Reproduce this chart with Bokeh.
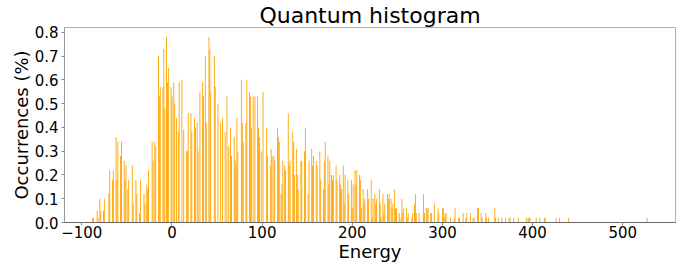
from bokeh.plotting import figure
from bokeh.models import Range1d, FixedTicker, CustomJSTickFormatter
from bokeh.embed import file_html
from bokeh.resources import INLINE

# Energy values (x) and occurrences in percent (y)
energies = [
    -88, -87, -83, -82, -80, -79, -76, -75, -70, -69, -66, -65, -62, -61, -60,
    -57, -56, -53, -52, -51, -49, -48, -44, -43, -40, -39, -36, -35, -31, -30,
    -28, -27, -26, -22, -21, -19, -18,
    -15, -14, -13, -10, -9, -8, -6, -5, -4, -1, 0, 2, 3, 5, 7, 8, 11, 13,
    16, 17, 18, 21, 22, 25, 26, 28, 29, 31, 34, 35, 37, 38, 41, 42, 43,
    47, 48, 51, 54, 56, 59, 61, 63, 65, 66, 69, 70,
    71, 72, 73, 77, 78, 79, 82, 83, 86, 87, 88, 90, 92, 95, 96, 97, 99,
    101, 105, 106, 109, 110, 111, 113, 114, 117, 118, 119, 121, 122, 123,
    125, 126, 129, 130, 131, 134, 135, 136, 138, 139, 140, 143, 144, 147,
    148, 151, 152, 155, 156, 157,
    160, 161, 164, 165, 168, 169, 170, 173, 174, 175, 177, 178, 179, 182,
    183, 186, 187, 188, 190, 191, 192, 195, 196, 199, 200, 201, 203, 204,
    205, 208, 209, 210, 212, 213, 214, 217, 218, 221, 222, 223, 225, 226,
    227, 230, 231, 232, 234, 235, 236, 239, 240, 241, 243, 244, 245, 247, 248,
    249, 252, 253, 255, 256, 257, 260, 261, 262, 266, 267, 269, 270, 271,
    274, 279, 280, 282, 283, 284, 287, 288, 291, 295, 296, 300, 301, 302,
    303, 304, 309, 313, 314, 318, 319, 323, 326, 327, 331, 334, 335,
    339, 340, 343, 344, 348, 349, 351, 358, 359, 362, 366, 370, 374, 375,
    379, 384, 393, 395, 396, 397, 404, 408, 413, 414, 426, 430, 440, 527,
]
occurrences = [
    0.02, 0.02, 0.05, 0.02, 0.10, 0.05, 0.05, 0.10, 0.12, 0.22, 0.18, 0.22, 0.36, 0.18, 0.34,
    0.28, 0.34, 0.26, 0.18, 0.24, 0.14, 0.18, 0.24, 0.08, 0.18, 0.12, 0.04, 0.18, 0.12, 0.08,
    0.16, 0.14, 0.22, 0.34, 0.26, 0.34, 0.32,
    0.70, 0.53, 0.57, 0.57, 0.73, 0.48, 0.78, 0.59, 0.65, 0.57, 0.53, 0.59, 0.50, 0.44, 0.38, 0.59, 0.60, 0.39,
    0.30, 0.30, 0.46, 0.46, 0.38, 0.44, 0.40, 0.42, 0.30, 0.55, 0.59, 0.53, 0.70, 0.42, 0.78, 0.73, 0.55,
    0.70, 0.57, 0.50, 0.42, 0.44, 0.38, 0.53, 0.32, 0.40, 0.28, 0.36, 0.26,
    0.24, 0.44, 0.30, 0.60, 0.42, 0.34, 0.42, 0.60, 0.55, 0.53, 0.40, 0.53, 0.53, 0.53, 0.40, 0.36, 0.30,
    0.55, 0.40, 0.28, 0.24, 0.31, 0.28, 0.28, 0.26, 0.40, 0.36, 0.34, 0.12, 0.16, 0.26,
    0.24, 0.22, 0.46, 0.24, 0.26, 0.38, 0.34, 0.20, 0.31, 0.20, 0.14, 0.26, 0.26, 0.30,
    0.40, 0.12, 0.26, 0.31, 0.24, 0.28,
    0.26, 0.24, 0.30, 0.18, 0.14, 0.26, 0.34, 0.28, 0.16, 0.26, 0.20, 0.18, 0.20, 0.24,
    0.18, 0.20, 0.16, 0.14, 0.24, 0.08, 0.20, 0.18, 0.12, 0.18, 0.06, 0.16, 0.22, 0.16,
    0.22, 0.20, 0.18, 0.06, 0.14, 0.08, 0.10, 0.14, 0.10, 0.18, 0.02, 0.10, 0.12, 0.08,
    0.10, 0.14, 0.08, 0.02, 0.12, 0.04, 0.08, 0.12, 0.10, 0.12, 0.10, 0.06, 0.08, 0.14, 0.06,
    0.06, 0.04, 0.02, 0.10, 0.04, 0.06, 0.06, 0.02, 0.04, 0.02, 0.04, 0.08, 0.12, 0.04,
    0.04, 0.12, 0.04, 0.06, 0.06, 0.06, 0.04, 0.04, 0.08, 0.06, 0.04, 0.06, 0.06, 0.02,
    0.04, 0.04, 0.02, 0.02, 0.06, 0.02, 0.02, 0.04, 0.02, 0.04, 0.04, 0.02, 0.02,
    0.06, 0.06, 0.04, 0.02, 0.04, 0.02, 0.02, 0.06, 0.02, 0.02, 0.02, 0.02, 0.02, 0.02,
    0.02, 0.02, 0.02, 0.02, 0.02, 0.02, 0.02, 0.02, 0.02, 0.02, 0.02, 0.02, 0.02, 0.02,
]
x_ticks = [-100, 0, 100, 200, 300, 400, 500]
y_ticks = [0.0, 0.1, 0.2, 0.3, 0.4, 0.5, 0.6, 0.7, 0.8]
title_text = "Quantum histogram"
x_label = "Energy"
y_label = "Occurrences (%)"

FONT = "DejaVu Sans"

p = figure(width=683, height=264, output_backend="svg", toolbar_location=None,
           x_range=Range1d(-119.2, 558.5), y_range=Range1d(0, 0.8203),
           min_border_left=64, min_border_right=8, min_border_top=26, min_border_bottom=38,
           background_fill_color="white", border_fill_color="white")

p.vbar(x=energies, top=occurrences, width=1.0, fill_color="#FFA500", line_color=None)

p.title.text = title_text
p.title.align = "center"
p.title.text_font = FONT
p.title.text_font_size = "22px"
p.title.text_font_style = "normal"
p.title.text_color = "#000000"
p.title.standoff = 0
p.title.offset = 0

p.xgrid.visible = False
p.ygrid.visible = False
p.outline_line_color = "#b0b0b0"
p.outline_line_width = 1

xa = p.xaxis[0]
xa.ticker = FixedTicker(ticks=x_ticks)
xa.formatter = CustomJSTickFormatter(code="return tick < 0 ? '\\u2212' + Math.abs(tick) : String(tick);")
xa.axis_line_color = "#666666"
xa.major_tick_line_color = "#888888"
xa.major_tick_out = 3
xa.major_tick_in = 0
xa.minor_tick_line_color = None
xa.major_label_standoff = 0
xa.major_label_text_font = FONT
xa.major_label_text_font_size = "15px"
xa.major_label_text_color = "#000000"
xa.major_label_text_line_height = 0.9
xa.axis_label = x_label
xa.axis_label_text_font = FONT
xa.axis_label_text_font_size = "18px"
xa.axis_label_text_font_style = "normal"
xa.axis_label_text_color = "#000000"
xa.axis_label_text_line_height = 0.9
xa.axis_label_standoff = 0

ya = p.yaxis[0]
ya.ticker = FixedTicker(ticks=y_ticks)
ya.formatter = CustomJSTickFormatter(code="return tick.toFixed(1);")
ya.axis_line_color = "#999999"
ya.major_tick_line_color = "#888888"
ya.major_tick_out = 3
ya.major_tick_in = 0
ya.minor_tick_line_color = None
ya.major_label_standoff = 3
ya.major_label_text_font = FONT
ya.major_label_text_font_size = "15px"
ya.major_label_text_color = "#000000"
ya.axis_label = y_label
ya.axis_label_text_font = FONT
ya.axis_label_text_font_size = "18px"
ya.axis_label_text_font_style = "normal"
ya.axis_label_text_color = "#000000"
ya.axis_label_standoff = 0

open("out.html", "w").write(file_html(p, INLINE))
